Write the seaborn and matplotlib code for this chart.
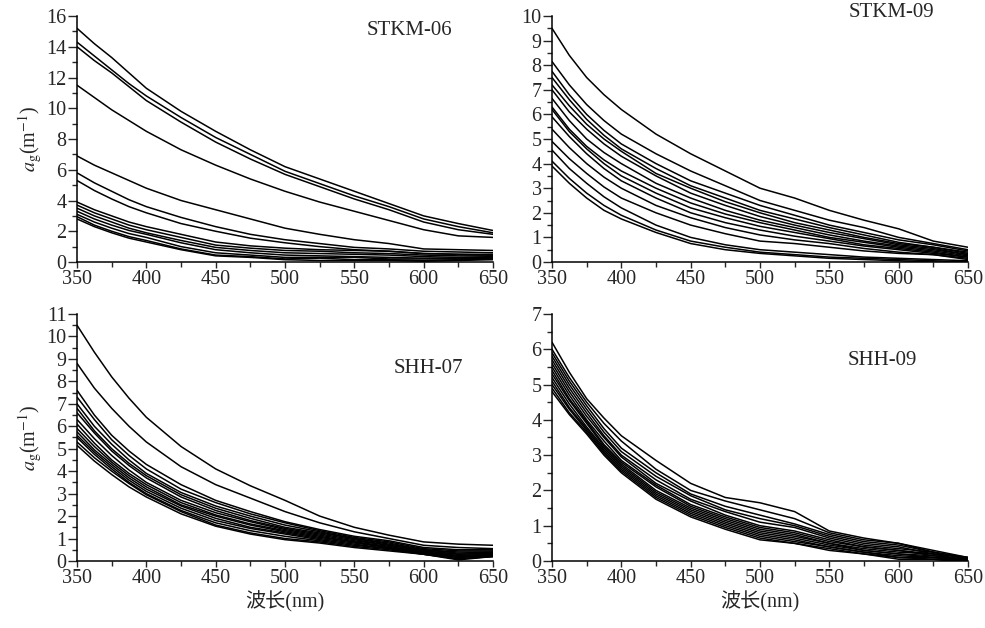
import matplotlib
matplotlib.use("Agg")
import matplotlib.pyplot as plt
import seaborn as sns
import pandas as pd
from matplotlib.ticker import MultipleLocator

wavelengths = [350, 362.5, 375, 387.5, 400, 425, 450, 475, 500, 525, 550, 575, 600, 625, 650]

# a_g (m^-1) curves, one list per sample
stkm06 = [
    [15.2, 14.2, 13.3, 12.3, 11.3, 9.8, 8.5, 7.3, 6.2, 5.4, 4.6, 3.8, 3.0, 2.5, 2.05],
    [14.3, 13.4, 12.5, 11.6, 10.8, 9.4, 8.1, 7.0, 5.9, 5.1, 4.3, 3.6, 2.8, 2.3, 1.9],
    [14.0, 13.1, 12.3, 11.4, 10.5, 9.1, 7.8, 6.7, 5.7, 4.9, 4.1, 3.4, 2.6, 2.1, 1.8],
    [11.5, 10.7, 9.9, 9.2, 8.5, 7.3, 6.3, 5.4, 4.6, 3.9, 3.3, 2.7, 2.1, 1.7, 1.6],
    [6.9, 6.3, 5.8, 5.3, 4.8, 4.0, 3.4, 2.8, 2.2, 1.8, 1.45, 1.2, 0.85, 0.8, 0.75],
    [5.8, 5.15, 4.6, 4.05, 3.6, 2.9, 2.3, 1.8, 1.45, 1.2, 0.95, 0.85, 0.7, 0.65, 0.6],
    [5.3, 4.65, 4.1, 3.6, 3.2, 2.5, 2.0, 1.55, 1.25, 1.0, 0.8, 0.7, 0.55, 0.5, 0.5],
    [3.9, 3.4, 3.0, 2.6, 2.3, 1.8, 1.3, 1.05, 0.9, 0.8, 0.75, 0.7, 0.55, 0.5, 0.45],
    [3.7, 3.2, 2.8, 2.4, 2.1, 1.6, 1.1, 0.9, 0.75, 0.7, 0.6, 0.55, 0.45, 0.4, 0.4],
    [3.5, 3.0, 2.6, 2.2, 1.9, 1.4, 0.95, 0.75, 0.6, 0.55, 0.5, 0.45, 0.35, 0.3, 0.35],
    [3.3, 2.8, 2.4, 2.05, 1.8, 1.25, 0.8, 0.6, 0.45, 0.4, 0.35, 0.3, 0.25, 0.25, 0.3],
    [3.1, 2.6, 2.2, 1.85, 1.6, 1.0, 0.6, 0.45, 0.3, 0.3, 0.3, 0.2, 0.2, 0.2, 0.25],
    [2.95, 2.4, 2.0, 1.65, 1.4, 0.85, 0.45, 0.35, 0.2, 0.25, 0.15, 0.15, 0.1, 0.15, 0.2],
    [2.8, 2.3, 1.9, 1.55, 1.3, 0.8, 0.4, 0.3, 0.15, 0.1, 0.1, 0.1, 0.05, 0.1, 0.15],
]

stkm09 = [
    [9.5, 8.4, 7.5, 6.8, 6.2, 5.2, 4.4, 3.7, 3.0, 2.6, 2.1, 1.7, 1.35, 0.85, 0.6],
    [8.15, 7.2, 6.4, 5.75, 5.2, 4.4, 3.7, 3.1, 2.5, 2.1, 1.7, 1.4, 1.0, 0.75, 0.5],
    [7.75, 6.8, 6.0, 5.35, 4.8, 4.0, 3.3, 2.8, 2.3, 1.9, 1.5, 1.2, 0.9, 0.7, 0.45],
    [7.5, 6.6, 5.8, 5.15, 4.6, 3.8, 3.1, 2.6, 2.1, 1.75, 1.4, 1.1, 0.8, 0.6, 0.4],
    [7.2, 6.35, 5.6, 5.0, 4.5, 3.6, 3.0, 2.45, 2.0, 1.6, 1.3, 1.0, 0.75, 0.6, 0.35],
    [7.0, 6.1, 5.4, 4.8, 4.3, 3.5, 2.8, 2.3, 1.85, 1.5, 1.2, 0.95, 0.7, 0.55, 0.3],
    [6.65, 5.75, 5.0, 4.45, 4.0, 3.2, 2.6, 2.1, 1.7, 1.4, 1.1, 0.85, 0.65, 0.5, 0.3],
    [6.3, 5.4, 4.7, 4.15, 3.7, 3.0, 2.4, 1.95, 1.6, 1.3, 1.0, 0.8, 0.6, 0.45, 0.25],
    [6.2, 5.3, 4.6, 4.0, 3.5, 2.8, 2.2, 1.8, 1.45, 1.2, 0.95, 0.7, 0.55, 0.4, 0.2],
    [5.9, 5.1, 4.4, 3.8, 3.3, 2.6, 2.0, 1.6, 1.3, 1.05, 0.85, 0.65, 0.5, 0.35, 0.2],
    [5.4, 4.65, 4.0, 3.45, 3.0, 2.3, 1.8, 1.4, 1.1, 0.9, 0.75, 0.55, 0.4, 0.3, 0.15],
    [4.9, 4.2, 3.6, 3.05, 2.6, 2.0, 1.5, 1.15, 0.85, 0.75, 0.6, 0.45, 0.35, 0.3, 0.1],
    [4.55, 3.8, 3.2, 2.65, 2.2, 1.5, 1.0, 0.7, 0.5, 0.4, 0.3, 0.2, 0.15, 0.1, 0.05],
    [4.1, 3.4, 2.8, 2.3, 1.9, 1.3, 0.85, 0.6, 0.4, 0.3, 0.2, 0.15, 0.1, 0.05, 0.0],
    [3.9, 3.2, 2.6, 2.1, 1.75, 1.2, 0.75, 0.5, 0.35, 0.25, 0.15, 0.1, 0.05, 0.0, -0.05],
]

shh07 = [
    [10.5, 9.3, 8.2, 7.25, 6.4, 5.1, 4.1, 3.35, 2.7, 2.0, 1.5, 1.15, 0.85, 0.75, 0.7],
    [8.8, 7.7, 6.8, 6.0, 5.3, 4.2, 3.4, 2.8, 2.2, 1.7, 1.3, 1.0, 0.7, 0.6, 0.55],
    [7.6, 6.5, 5.6, 4.9, 4.3, 3.4, 2.7, 2.2, 1.75, 1.4, 1.1, 0.9, 0.6, 0.5, 0.5],
    [7.3, 6.3, 5.4, 4.7, 4.1, 3.2, 2.6, 2.1, 1.7, 1.35, 1.05, 0.85, 0.55, 0.45, 0.45],
    [7.0, 6.0, 5.2, 4.5, 3.9, 3.05, 2.45, 2.0, 1.6, 1.3, 1.0, 0.8, 0.5, 0.4, 0.4],
    [6.8, 5.8, 5.0, 4.35, 3.8, 2.95, 2.35, 1.9, 1.5, 1.25, 1.0, 0.75, 0.5, 0.35, 0.4],
    [6.6, 5.7, 4.9, 4.25, 3.7, 2.85, 2.25, 1.8, 1.45, 1.2, 0.95, 0.7, 0.45, 0.3, 0.35],
    [6.3, 5.45, 4.7, 4.05, 3.5, 2.7, 2.15, 1.75, 1.4, 1.15, 0.9, 0.7, 0.45, 0.3, 0.35],
    [6.1, 5.25, 4.5, 3.9, 3.4, 2.6, 2.05, 1.65, 1.35, 1.1, 0.85, 0.65, 0.4, 0.25, 0.3],
    [5.9, 5.1, 4.4, 3.8, 3.3, 2.5, 2.0, 1.6, 1.3, 1.05, 0.85, 0.6, 0.4, 0.2, 0.3],
    [5.75, 4.95, 4.3, 3.7, 3.2, 2.45, 1.9, 1.5, 1.25, 1.0, 0.8, 0.6, 0.35, 0.2, 0.25],
    [5.6, 4.85, 4.2, 3.6, 3.1, 2.35, 1.8, 1.45, 1.2, 0.95, 0.75, 0.55, 0.35, 0.15, 0.25],
    [5.5, 4.75, 4.1, 3.5, 3.0, 2.25, 1.7, 1.35, 1.1, 0.9, 0.7, 0.55, 0.3, 0.1, 0.2],
    [5.3, 4.6, 4.0, 3.45, 2.95, 2.2, 1.6, 1.25, 1.0, 0.85, 0.65, 0.5, 0.3, 0.1, 0.2],
    [5.15, 4.45, 3.85, 3.3, 2.85, 2.1, 1.55, 1.2, 0.95, 0.8, 0.6, 0.45, 0.3, 0.05, 0.2],
]

shh09 = [
    [6.2, 5.35, 4.6, 4.05, 3.55, 2.85, 2.2, 1.8, 1.65, 1.4, 0.85, 0.65, 0.5, 0.25, 0.1],
    [6.0, 5.2, 4.5, 3.9, 3.4, 2.6, 2.0, 1.7, 1.45, 1.2, 0.8, 0.6, 0.5, 0.3, 0.1],
    [5.9, 5.1, 4.4, 3.75, 3.2, 2.5, 1.9, 1.55, 1.3, 1.05, 0.75, 0.55, 0.45, 0.25, 0.05],
    [5.8, 5.0, 4.3, 3.65, 3.1, 2.4, 1.85, 1.45, 1.2, 1.0, 0.7, 0.5, 0.4, 0.2, 0.1],
    [5.7, 4.9, 4.2, 3.55, 3.0, 2.3, 1.75, 1.4, 1.1, 0.95, 0.65, 0.45, 0.35, 0.25, 0.05],
    [5.6, 4.8, 4.1, 3.5, 2.95, 2.2, 1.7, 1.3, 1.0, 0.85, 0.6, 0.4, 0.3, 0.2, 0.0],
    [5.5, 4.7, 4.0, 3.4, 2.85, 2.15, 1.6, 1.25, 0.95, 0.8, 0.55, 0.4, 0.3, 0.15, 0.05],
    [5.4, 4.6, 3.95, 3.3, 2.8, 2.1, 1.55, 1.2, 0.9, 0.75, 0.5, 0.35, 0.25, 0.2, 0.0],
    [5.3, 4.55, 3.9, 3.25, 2.75, 2.0, 1.5, 1.15, 0.85, 0.7, 0.5, 0.3, 0.2, 0.1, 0.05],
    [5.2, 4.45, 3.8, 3.2, 2.7, 1.95, 1.45, 1.1, 0.8, 0.65, 0.45, 0.3, 0.2, 0.15, 0.0],
    [5.1, 4.35, 3.75, 3.15, 2.65, 1.9, 1.4, 1.05, 0.75, 0.6, 0.4, 0.25, 0.15, 0.1, 0.0],
    [5.0, 4.3, 3.7, 3.1, 2.6, 1.85, 1.35, 1.0, 0.7, 0.55, 0.4, 0.25, 0.1, 0.1, -0.05],
    [4.9, 4.2, 3.65, 3.05, 2.55, 1.8, 1.3, 0.95, 0.65, 0.5, 0.35, 0.2, 0.1, 0.05, 0.0],
    [4.8, 4.15, 3.6, 3.0, 2.5, 1.75, 1.25, 0.9, 0.6, 0.5, 0.3, 0.2, 0.05, 0.05, -0.05],
]

panel_names = ["STKM-06", "STKM-09", "SHH-07", "SHH-09"]
panel_data = [stkm06, stkm09, shh07, shh09]
y_max = [16, 10, 11, 7]
y_major = [2, 1, 1, 1]


def to_long(curves):
    rows = []
    for i, c in enumerate(curves):
        for wl, v in zip(wavelengths, c):
            rows.append({"wl": wl, "ag": v, "curve": i})
    return pd.DataFrame(rows)


sns.set_theme(style="ticks")
plt.rcParams["font.family"] = ["Liberation Serif", "Noto Sans CJK SC"]
plt.rcParams["mathtext.fontset"] = "stix"
plt.rcParams["font.size"] = 14.5

fig = plt.figure(figsize=(9.85, 6.28), dpi=100)
# axes boxes in figure fraction: left, bottom, width, height
boxes = [
    [0.0782, 0.5828, 0.4223, 0.3917],
    [0.5604, 0.5828, 0.4223, 0.3917],
    [0.0782, 0.1067, 0.4223, 0.3933],
    [0.5604, 0.1067, 0.4223, 0.3933],
]
label_pos = [(0.80, 0.94), (0.815, 1.015), (0.845, 0.78), (0.795, 0.81)]

for k in range(4):
    ax = fig.add_axes(boxes[k])
    df = to_long(panel_data[k])
    sns.lineplot(data=df, x="wl", y="ag", units="curve", estimator=None,
                 color="black", linewidth=1.1, ax=ax, legend=False)
    ax.set_xlim(350, 650)
    ax.set_ylim(0, y_max[k])
    ax.xaxis.set_major_locator(MultipleLocator(50))
    ax.xaxis.set_minor_locator(MultipleLocator(25))
    ax.yaxis.set_major_locator(MultipleLocator(y_major[k]))
    ax.yaxis.set_minor_locator(MultipleLocator(y_major[k] / 2))
    ax.tick_params(axis="y", which="major", length=6.5, width=1.0, direction="out",
                   labelsize=14.5, pad=1)
    ax.tick_params(axis="y", which="minor", length=3.5, width=1.0, direction="out")
    ax.tick_params(axis="x", which="major", length=4, width=1.0, direction="out",
                   labelsize=14.5, pad=2)
    ax.tick_params(axis="x", which="minor", length=3.5, width=1.0, direction="out")
    for s in ["top", "right"]:
        ax.spines[s].set_visible(False)
    for s in ["left", "bottom"]:
        ax.spines[s].set_linewidth(1.1)
        ax.spines[s].set_color("black")
    ax.set_xlabel("")
    ax.set_ylabel("")
    if k % 2 == 0:
        ax.set_ylabel(r"$a_{\mathrm{g}}$(m$^{-1}$)", fontsize=14.5, labelpad=2)
    if k >= 2:
        ax.set_xlabel("波长(nm)", fontsize=14.5, labelpad=2)
    ax.text(label_pos[k][0], label_pos[k][1], panel_names[k], transform=ax.transAxes,
            ha="center", va="center", fontsize=15)

fig.savefig("out.png", dpi=100)
plt.close(fig)
